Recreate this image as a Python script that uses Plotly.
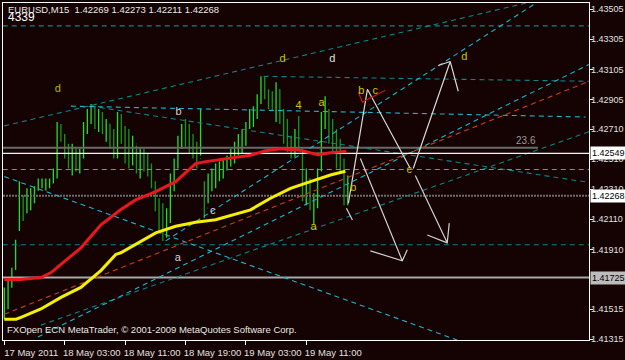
import plotly.graph_objects as go

# ---------------- data ----------------
# 30-minute sampling of the EURUSD M15 chart, hours since 17 May 2011 19:00
bar_hours = [i * 0.5 for i in range(92)]
bar_high = [1.41659, 1.41705, 1.41790, 1.41975, 1.42363, 1.42270, 1.42317, 1.42317, 1.42330, 1.42382,
            1.42382, 1.42382, 1.42382, 1.42448, 1.42757, 1.42744, 1.42678, 1.42612, 1.42612, 1.42580,
            1.42580, 1.42757, 1.42843, 1.42876, 1.42862, 1.42843, 1.42823, 1.42777, 1.42744, 1.42711,
            1.42823, 1.42810, 1.42731, 1.42711, 1.42665, 1.42599, 1.42580, 1.42580, 1.42547, 1.42481,
            1.42363, 1.42251, 1.42218, 1.42185, 1.42415, 1.42514, 1.42665, 1.42744, 1.42777, 1.42744,
            1.42678, 1.42626, 1.42843, 1.42363, 1.42415, 1.42448, 1.42481, 1.42494, 1.42514, 1.42534,
            1.42580, 1.42626, 1.42678, 1.42711, 1.42757, 1.42843, 1.42862, 1.42941, 1.43060, 1.43060,
            1.42974, 1.42961, 1.43020, 1.42974, 1.42843, 1.42777, 1.42665, 1.42711, 1.42797, 1.42580,
            1.42448, 1.42382, 1.42284, 1.42448, 1.42823, 1.42928, 1.42843, 1.42777, 1.42711, 1.42645,
            1.42514, 1.42402]
bar_low = [1.41448, 1.41514, 1.41659, 1.41777, 1.42034, 1.42100, 1.42152, 1.42172, 1.42218, 1.42303,
           1.42317, 1.42303, 1.42317, 1.42349, 1.42382, 1.42626, 1.42514, 1.42448, 1.42402, 1.42428,
           1.42415, 1.42514, 1.42678, 1.42744, 1.42711, 1.42691, 1.42678, 1.42626, 1.42580, 1.42514,
           1.42514, 1.42612, 1.42481, 1.42448, 1.42468, 1.42415, 1.42382, 1.42428, 1.42395, 1.42317,
           1.42165, 1.42021, 1.41968, 1.41988, 1.42086, 1.42297, 1.42448, 1.42580, 1.42593, 1.42547,
           1.42514, 1.42448, 1.42534, 1.42119, 1.42218, 1.42297, 1.42317, 1.42363, 1.42382, 1.42435,
           1.42461, 1.42481, 1.42534, 1.42547, 1.42599, 1.42711, 1.42724, 1.42777, 1.42876, 1.42908,
           1.42843, 1.42830, 1.42757, 1.42744, 1.42612, 1.42560, 1.42514, 1.42527, 1.42580, 1.42231,
           1.42205, 1.42172, 1.42073, 1.42185, 1.42428, 1.42711, 1.42612, 1.42560, 1.42448, 1.42415,
           1.42205, 1.42205]
bar_close = [1.41593, 1.41659, 1.41777, 1.41935, 1.42251, 1.42185, 1.42251, 1.42270, 1.42303, 1.42349,
             1.42356, 1.42363, 1.42369, 1.42435, 1.42711, 1.42645, 1.42547, 1.42514, 1.42580, 1.42481,
             1.42547, 1.42711, 1.42790, 1.42843, 1.42777, 1.42810, 1.42711, 1.42744, 1.42645, 1.42580,
             1.42790, 1.42645, 1.42580, 1.42514, 1.42612, 1.42448, 1.42514, 1.42481, 1.42448, 1.42349,
             1.42218, 1.42086, 1.42054, 1.42152, 1.42382, 1.42481, 1.42612, 1.42711, 1.42678, 1.42645,
             1.42580, 1.42514, 1.42580, 1.42185, 1.42382, 1.42415, 1.42448, 1.42461, 1.42481, 1.42514,
             1.42547, 1.42593, 1.42645, 1.42678, 1.42724, 1.42810, 1.42830, 1.42908, 1.43007, 1.42941,
             1.42908, 1.42876, 1.42974, 1.42790, 1.42645, 1.42612, 1.42580, 1.42645, 1.42612, 1.42284,
             1.42382, 1.42218, 1.42251, 1.42382, 1.42777, 1.42876, 1.42678, 1.42612, 1.42514, 1.42448,
             1.42251, 1.42268]
first_open = 1.41514
bar_open = [first_open] + bar_close[:-1]

# moving averages (read at sample points)
red_ma_hours = [0, 2.2, 4.85, 6.2, 7.5, 10.15, 12.8, 15.4, 17.4, 20.06, 22.7, 25.35, 26.7, 30.0,
                32.6, 34.6, 36.6, 39.2, 41.5, 43.2, 45.3]
red_ma = [1.41712, 1.41712, 1.41725, 1.41758, 1.41812, 1.41922, 1.42075, 1.42174, 1.42240, 1.42295,
          1.42361, 1.42481, 1.42494, 1.42520, 1.42536, 1.42566, 1.42580, 1.42569, 1.42540, 1.42553,
          1.42562]
yel_ma_hours = [0, 1.55, 2.21, 4.85, 7.5, 10.14, 12.79, 14.77, 15.43, 17.42, 20.06, 22.7, 25.35,
                27.99, 30.64, 32.62, 35.26, 37.91, 40.55, 43.2, 45.18]
yel_ma = [1.41448, 1.41448, 1.41461, 1.41516, 1.41593, 1.41659, 1.41771, 1.41878, 1.41889, 1.41944,
          1.42021, 1.42065, 1.42091, 1.42108, 1.42148, 1.42174, 1.42251, 1.42317, 1.42361, 1.42405,
          1.42430]

# trend lines: (t1, p1, t2, p2)
teal_dark_lines = [
    (-0.2, 1.43395, 77.5, 1.43395),
    (0.0, 1.42731, 69.1, 1.43546),
    (-0.2, 1.41942, 77.5, 1.41942),
    (11.46, 1.42862, 77.45, 1.42356),
    (34.34, 1.43060, 77.45, 1.43027),
    (4.85, 1.41409, 77.45, 1.42692),
]
teal_light_lines = [
    (-0.2, 1.42442, 77.5, 1.42442),
    (8.82, 1.42862, 77.0, 1.42790),
    (0.0, 1.42395, 59.99, 1.41310),
    (4.46, 1.41330, 77.45, 1.43139),
    (21.38, 1.41968, 70.44, 1.43546),
]
orange_lines = [(0.0, 1.41481, 77.45, 1.43027)]

# projected wave path (white)
wave_t = [45.58, 48.10, 53.78]
wave_p = [1.42218, 1.42974, 1.42448]
wave2_t = [54.17, 59.07, 60.13]
wave2_p = [1.42448, 1.43158, 1.42961]
wave2_head_t = [57.48, 59.07]
wave2_head_p = [1.43132, 1.43158]
arrow1_t = [47.17, 52.72, 48.49, 52.72, 53.38]
arrow1_p = [1.42514, 1.41836, 1.41902, 1.41836, 1.41909]
arrow2_t = [54.44, 58.67, 56.03, 58.67, 58.94]
arrow2_p = [1.42402, 1.41955, 1.42007, 1.41955, 1.42086]
tick_t = [45.32, 46.11]
tick_p = [1.42185, 1.42106]
red_bc_t = [46.9, 47.43, 50.47]
red_bc_p = [1.42955, 1.42889, 1.42968]

# wave labels
lab_text = ["d", "b", "c", "a", "d", "d", "4", "a", "a", "b", "b", "c", "c", "d"]
lab_t = [7.1, 23.1, 27.6, 22.97, 36.85, 43.46, 38.97, 42.01, 40.95, 46.24, 47.3, 49.15, 53.65, 60.92]
lab_p = [1.42974, 1.42823, 1.42165, 1.41850, 1.43172, 1.43172, 1.42862, 1.42882, 1.42060, 1.42317,
         1.42961, 1.42961, 1.42435, 1.43185]
lab_col = ["#b4b400", "#d4d4d4", "#d4d4d4", "#d4d4d4", "#c8c800", "#e0e0e0", "#c8c800", "#c8c800",
           "#c8c800", "#c8c800", "#c8c800", "#c8c800", "#c8c800", "#c8c800"]

fib_level = 1.42586
fib_end_t = 70.7
bid_level = 1.42549
last_level = 1.42268
support_level = 1.41725

x_tick_vals = [0, 8, 16, 24, 32, 40]
x_tick_text = ["17 May 2011", "18 May 03:00", "18 May 11:00", "18 May 19:00", "19 May 03:00", "19 May 11:00"]
y_tick_vals = [1.43505, 1.43305, 1.43105, 1.42905, 1.42710, 1.42510, 1.42310, 1.42110, 1.41910, 1.41515, 1.41315]
y_tick_text = ["1.43505", "1.43305", "1.43105", "1.42905", "1.42710", "1.42510", "1.42310", "1.42110",
               "1.41910", "1.41515", "1.41315"]

# ---------------- figure ----------------
BG = "#150303"
FONT = "Liberation Sans"
fig = go.Figure()

X0, X1 = -0.17, 77.45

def seg(t1, p1, t2, p2, color, dash="5px,4px", width=1.1):
    fig.add_trace(go.Scatter(x=[t1, t2], y=[p1, p2], mode="lines",
                             line=dict(color=color, width=width, dash=dash), hoverinfo="skip"))

# horizontal price lines
seg(X0, support_level, X1, support_level, "#a8a8a8", dash="solid", width=2)
seg(X0, last_level, X1, last_level, "#6e6e6e", dash="2px,1px", width=2)
seg(X0, fib_level, fib_end_t, fib_level, "#6a6a6a", dash="solid", width=2)

for l in teal_dark_lines:
    seg(*l, color="#0b8585")
for l in teal_light_lines:
    seg(*l, color="#19b6cc")
for l in orange_lines:
    seg(*l, color="#c8401a")

seg(X0, bid_level, X1, bid_level, "#f4f4f4", dash="solid", width=1.3)

# price bars
fig.add_trace(go.Ohlc(x=bar_hours, open=bar_open, high=bar_high, low=bar_low, close=bar_close,
                      increasing_line_color="#22e022", decreasing_line_color="#139a13",
                      line_width=1.3, tickwidth=0.12, hoverinfo="skip"))

# moving averages
fig.add_trace(go.Scatter(x=red_ma_hours, y=red_ma, mode="lines",
                         line=dict(color="#e8181e", width=3), hoverinfo="skip"))
fig.add_trace(go.Scatter(x=yel_ma_hours, y=yel_ma, mode="lines",
                         line=dict(color="#f4f000", width=3), hoverinfo="skip"))

# projection drawings
def poly(ts, ps, color, width=1.2):
    fig.add_trace(go.Scatter(x=ts, y=ps, mode="lines", line=dict(color=color, width=width),
                             hoverinfo="skip"))

poly(wave_t, wave_p, "#d8d8d8")
poly(wave2_t, wave2_p, "#d8d8d8")
poly(wave2_head_t, wave2_head_p, "#d8d8d8")
poly(arrow1_t, arrow1_p, "#d0d0d0")
poly(arrow2_t, arrow2_p, "#d0d0d0")
poly(tick_t, tick_p, "#d0d0d0")
poly(red_bc_t, red_bc_p, "#c81414")

# wave labels
fig.add_trace(go.Scatter(x=lab_t, y=lab_p, mode="text", text=lab_text,
                         textfont=dict(color=lab_col, size=11, family=FONT), hoverinfo="skip"))

fig.update_layout(
    width=625, height=360,
    margin=dict(l=2, r=36, t=3, b=17),
    paper_bgcolor=BG, plot_bgcolor=BG,
    showlegend=False,
    xaxis=dict(range=[X0, X1], showgrid=False, zeroline=False, showline=True, linecolor="#ffffff",
               linewidth=1, mirror=True, ticks="outside", ticklen=4, tickcolor="#ffffff",
               tickvals=x_tick_vals, ticktext=x_tick_text, ticklabelshift=27,
               tickfont=dict(color="#e0e0e0", size=9.5, family=FONT), rangeslider=dict(visible=False),
               fixedrange=True),
    yaxis=dict(range=[1.413103, 1.435465], side="right", showgrid=False, zeroline=False,
               showline=True, linecolor="#ffffff", linewidth=1, mirror=True, ticks="outside",
               ticklen=3, tickcolor="#ffffff", tickvals=y_tick_vals, showticklabels=False,
               fixedrange=True),
)

# right-hand price scale labels
for v, t in zip(y_tick_vals, y_tick_text):
    fig.add_annotation(xref="paper", x=1, xanchor="left", xshift=1, yref="y", y=v, text=t,
                       showarrow=False, borderpad=0,
                       font=dict(color="#e0e0e0", size=9, family=FONT))

def price_box(level, bg):
    fig.add_annotation(xref="paper", x=1, xanchor="left", xshift=1, yref="y", y=level,
                       text=f"{level:.5f}", showarrow=False, bgcolor=bg,
                       font=dict(color="#000000", size=9, family=FONT), borderpad=1)

price_box(bid_level, "#ffffff")
price_box(last_level, "#ffffff")
price_box(support_level, "#bcbcbc")

fig.add_annotation(xref="x", x=fib_end_t, xanchor="right", yref="y", y=fib_level, yanchor="bottom",
                   yshift=0, text="23.6", showarrow=False, font=dict(color="#9a9a9a", size=10, family=FONT))

fig.add_annotation(xref="paper", x=0, xanchor="left", xshift=3, yref="paper", y=1, yanchor="top",
                   yshift=1, text="EURUSD,M15  1.42269 1.42273 1.42211 1.42268", showarrow=False,
                   font=dict(color="#e8e8e8", size=9.5, family=FONT))
fig.add_annotation(xref="paper", x=0, xanchor="left", xshift=3, yref="paper", y=1, yanchor="top",
                   yshift=-5, text="4339", showarrow=False,
                   font=dict(color="#ffffff", size=12, family=FONT))
fig.add_annotation(xref="paper", x=0, xanchor="left", xshift=2, yref="paper", y=0, yanchor="bottom",
                   yshift=3, text="FXOpen ECN MetaTrader, © 2001-2009 MetaQuotes Software Corp.",
                   showarrow=False, font=dict(color="#e8e8e8", size=9.5, family=FONT))

fig.write_html("out.html")
